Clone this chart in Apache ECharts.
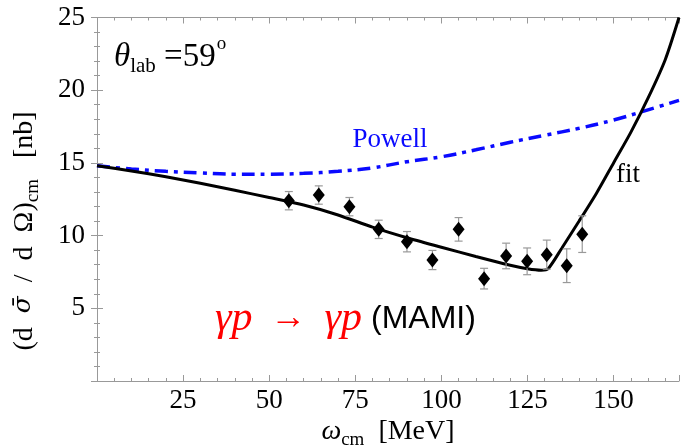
<!DOCTYPE html>
<html>
<head>
<meta charset="utf-8">
<title>gamma p -> gamma p (MAMI), theta_lab = 59</title>
<script src="https://cdn.jsdelivr.net/npm/echarts@6/dist/echarts.min.js"></script>
<style>
  html, body { margin: 0; padding: 0; background: #fff; }
  #chart { width: 681px; height: 448px; }
</style>
</head>
<body>
<div id="chart"></div>
<script>
// MAMI data points (omega_cm in MeV, cross section in nb, error)
var dataOmega = [55.7, 64.4, 73.3, 81.8, 90.0, 97.4, 105.0, 112.4, 118.8, 124.9, 130.6, 136.4, 140.9];
var dataSigma = [12.40, 12.79, 11.99, 10.43, 9.58, 8.32, 10.43, 7.04, 8.60, 8.23, 8.69, 7.93, 10.10];
var dataError = [0.63, 0.63, 0.63, 0.63, 0.70, 0.66, 0.81, 0.71, 0.88, 0.92, 1.00, 1.16, 1.26];

// fit curve
var fitOmega = [0, 10, 20, 30, 40, 50, 60, 70, 80, 90, 100, 110, 120, 125, 129, 131, 135, 140, 145, 150, 155, 160, 165, 169];
var fitSigma = [14.80, 14.45, 14.05, 13.60, 13.12, 12.62, 12.10, 11.42, 10.58, 9.85, 9.20, 8.56, 7.96, 7.72, 7.62, 7.72, 9.15, 11.0, 12.9, 15.0, 17.1, 19.45, 22.1, 25.0];

// Powell curve
var powellOmega = [0, 10, 20, 30, 40, 50, 60, 70, 80, 90, 100, 110, 120, 130, 140, 150, 160, 169];
var powellSigma = [14.80, 14.58, 14.42, 14.31, 14.22, 14.22, 14.28, 14.42, 14.66, 15.08, 15.42, 15.90, 16.42, 16.90, 17.38, 17.95, 18.65, 19.30];

var X_MIN = 0, X_MAX = 169, X_STEP = 25, X_MINOR = 5;
var Y_MIN = 0, Y_MAX = 25, Y_STEP = 5;

var FRAME = '#999';
var SERIF = 'Liberation Serif';
var SANS = 'Liberation Sans';

function zip(xs, ys) {
  return xs.map(function (x, i) { return [x, ys[i]]; });
}

function xLabel(v) {
  return v > 0 && v % X_STEP === 0 ? String(v) : '';
}
function yLabel(v) {
  return v > 0 ? String(v) : '';
}

function frameX(position, interval, tickLen, showLine, showLabel) {
  return {
    type: 'value',
    position: position,
    min: X_MIN,
    max: X_MAX,
    interval: interval,
    axisLine: { show: showLine, lineStyle: { color: FRAME, width: 1 } },
    axisTick: { show: true, inside: true, length: tickLen, lineStyle: { color: FRAME, width: 1 } },
    axisLabel: {
      show: showLabel,
      formatter: xLabel,
      color: '#000',
      fontFamily: SERIF,
      fontSize: 27,
      margin: 6
    },
    splitLine: { show: false }
  };
}

function frameY(position, showLabel) {
  return {
    type: 'value',
    position: position,
    min: Y_MIN,
    max: Y_MAX,
    interval: Y_STEP,
    axisLine: { show: true, lineStyle: { color: FRAME, width: 1 } },
    axisTick: { show: true, inside: true, length: 6, lineStyle: { color: FRAME, width: 1 } },
    minorTick: { show: true, splitNumber: 5, length: 3, lineStyle: { color: FRAME, width: 1 } },
    axisLabel: {
      show: showLabel,
      formatter: yLabel,
      color: '#000',
      fontFamily: SERIF,
      fontSize: 27,
      margin: 12
    },
    splitLine: { show: false }
  };
}

function renderErrorBar(params, api) {
  var x = api.value(0);
  var top = api.coord([x, api.value(2)]);
  var bottom = api.coord([x, api.value(1)]);
  var cap = 4;
  var style = { stroke: '#999', lineWidth: 1.2 };
  return {
    type: 'group',
    children: [
      { type: 'line', shape: { x1: top[0], y1: top[1], x2: bottom[0], y2: bottom[1] }, style: style },
      { type: 'line', shape: { x1: top[0] - cap, y1: top[1], x2: top[0] + cap, y2: top[1] }, style: style },
      { type: 'line', shape: { x1: bottom[0] - cap, y1: bottom[1], x2: bottom[0] + cap, y2: bottom[1] }, style: style }
    ]
  };
}

var errorData = dataOmega.map(function (x, i) {
  return [x, dataSigma[i] - dataError[i], dataSigma[i] + dataError[i]];
});

var chart = echarts.init(document.getElementById('chart'), null, { renderer: 'canvas' });

var option = {
  backgroundColor: '#fff',
  animation: false,
  grid: {
    left: 97,
    top: 17.5,
    width: 582,
    height: 363.5,
    containLabel: false,
    outerBoundsMode: 'none'
  },
  xAxis: [
    frameX('bottom', X_STEP, 6, true, true),
    frameX('bottom', X_MINOR, 3, false, false),
    frameX('top', X_STEP, 6, true, false),
    frameX('top', X_MINOR, 3, false, false)
  ],
  yAxis: [
    frameY('left', true),
    frameY('right', false)
  ],
  series: [
    {
      name: 'Powell',
      type: 'line',
      data: zip(powellOmega, powellSigma),
      smooth: 0.4,
      showSymbol: false,
      lineStyle: { color: '#0a0aff', width: 3.5, type: [13, 6, 4, 6] },
      z: 2
    },
    {
      name: 'fit',
      type: 'line',
      data: zip(fitOmega, fitSigma),
      smooth: 0.25,
      showSymbol: false,
      lineStyle: { color: '#000', width: 3 },
      z: 3
    },
    {
      name: 'errors',
      type: 'custom',
      renderItem: renderErrorBar,
      data: errorData,
      encode: { x: 0, y: [1, 2] },
      z: 4
    },
    {
      name: 'MAMI',
      type: 'scatter',
      data: zip(dataOmega, dataSigma),
      symbol: 'diamond',
      symbolSize: [12, 15],
      itemStyle: { color: '#000', opacity: 1 },
      z: 5
    }
  ],
  graphic: [
    {
      type: 'text',
      x: 114,
      y: 35,
      style: {
        text: '{i|θ}{sub|lab}{n| =59}{sup|o}',
        align: 'left',
        verticalAlign: 'top',
        rich: {
          i: { fontFamily: SERIF, fontStyle: 'italic', fontSize: 33, lineHeight: 33, padding: [6, 0, 0, 0], verticalAlign: 'top', fill: '#000' },
          sub: { fontFamily: SERIF, fontSize: 21, lineHeight: 21, padding: [21, 0, 0, 0], verticalAlign: 'top', fill: '#000' },
          n: { fontFamily: SERIF, fontSize: 33, lineHeight: 33, padding: [6, 0, 0, 0], verticalAlign: 'top', fill: '#000' },
          sup: { fontFamily: SERIF, fontSize: 19, lineHeight: 19, padding: [0, 0, 0, 1], verticalAlign: 'top', fill: '#000' }
        }
      }
    },
    {
      type: 'text',
      x: 390,
      y: 140,
      style: {
        text: 'Powell',
        fontFamily: SERIF,
        fontSize: 27,
        fill: '#0a0aff',
        align: 'center',
        verticalAlign: 'middle'
      }
    },
    {
      type: 'text',
      x: 628,
      y: 175,
      style: {
        text: 'fit',
        fontFamily: SERIF,
        fontSize: 27,
        fill: '#000',
        align: 'center',
        verticalAlign: 'middle'
      }
    },
    {
      type: 'text',
      x: 215,
      y: 319,
      style: {
        text: '{g|γp}{a|  →  }{g|γp}{m| (MAMI)}',
        align: 'left',
        verticalAlign: 'middle',
        rich: {
          g: { fontFamily: SERIF, fontStyle: 'italic', fontSize: 42, lineHeight: 44, fill: '#ff0000' },
          a: { fontFamily: SERIF, fontSize: 36, lineHeight: 44, fill: '#ff0000' },
          m: { fontFamily: SANS, fontSize: 32, lineHeight: 44, fill: '#000' }
        }
      }
    },
    {
      type: 'text',
      x: 388,
      y: 430,
      style: {
        text: '{i|ω}{sub|cm}{a|  [MeV]}',
        align: 'center',
        verticalAlign: 'middle',
        rich: {
          i: { fontFamily: SERIF, fontStyle: 'italic', fontSize: 28, lineHeight: 28, padding: [2, 0, 0, 0], verticalAlign: 'top', fill: '#000' },
          sub: { fontFamily: SERIF, fontSize: 19, lineHeight: 19, padding: [15, 0, 0, 0], verticalAlign: 'top', fill: '#000' },
          a: { fontFamily: SERIF, fontSize: 28, lineHeight: 28, padding: [2, 0, 0, 0], verticalAlign: 'top', fill: '#000' }
        }
      }
    },
    {
      type: 'text',
      x: 23,
      y: 231,
      rotation: Math.PI / 2,
      style: {
        text: '{a|(d  }{s|σ̄}{a|  /  d  Ω)}{sub|cm}{a|   [nb]}',
        align: 'center',
        verticalAlign: 'middle',
        rich: {
          a: { fontFamily: SERIF, fontSize: 28, lineHeight: 28, padding: [2, 0, 0, 0], verticalAlign: 'top', fill: '#000' },
          s: { fontFamily: 'DejaVu Serif', fontStyle: 'italic', fontSize: 25, lineHeight: 28, padding: [2, 0, 0, 0], verticalAlign: 'top', fill: '#000' },
          sub: { fontFamily: SERIF, fontSize: 19, lineHeight: 19, padding: [15, 0, 0, 0], verticalAlign: 'top', fill: '#000' }
        }
      }
    }
  ]
};

chart.setOption(option);
</script>
</body>
</html>
